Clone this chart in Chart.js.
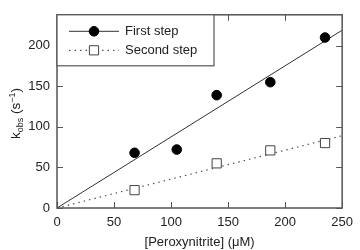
<!DOCTYPE html>
<html>
<head>
<meta charset="utf-8">
<script src="https://cdn.jsdelivr.net/npm/chart.js@4.4.1/dist/chart.umd.min.js"></script>
<style>
  html, body { margin: 0; padding: 0; background: #fff; }
  #wrap { width: 360px; height: 250px; position: relative; }
</style>
</head>
<body>
<div id="wrap"><canvas id="myChart"></canvas></div>
<script>
// data
const firstConc = [68, 105, 140, 187, 235];
const firstStep = [68, 72, 139, 155, 210];
const secondConc = [68, 140, 187, 235];
const secondStep = [22, 55, 71, 80];
// fitted lines through the origin (endpoints)
const fitConc = [0, 250];
const firstFit = [0, 219];
const secondFit = [0, 89];
// axis ticks
const xTicks = [0, 50, 100, 150, 200, 250];
const yTicks = [0, 50, 100, 150, 200];

const font = "'Liberation Sans', Arial, sans-serif";
const toXY = (xs, ys) => xs.map((x, i) => ({ x: x, y: ys[i] }));

// inward ticks, frame, legend and y title
const decorations = {
  id: "decorations",
  afterDatasetsDraw(chart) {
    const c = chart.ctx;
    const a = chart.chartArea;
    const xs = chart.scales.x;
    const ys = chart.scales.y;
    c.save();
    c.strokeStyle = "#555";
    c.lineWidth = 1;
    xTicks.forEach((t) => {
      let px = Math.round(xs.getPixelForValue(t)) + 0.5;
      c.beginPath();
      c.moveTo(px, a.bottom); c.lineTo(px, a.bottom - 6);
      c.moveTo(px, a.top); c.lineTo(px, a.top + 6);
      c.stroke();
    });
    yTicks.forEach((t) => {
      let py = Math.round(ys.getPixelForValue(t)) + 0.5;
      c.beginPath();
      c.moveTo(a.left, py); c.lineTo(a.left + 6, py);
      c.moveTo(a.right, py); c.lineTo(a.right - 6, py);
      c.stroke();
    });
    c.lineWidth = 1.5;
    c.strokeRect(a.left, a.top, a.right - a.left, a.bottom - a.top);

    // legend box
    let lx = a.left, ly = a.top, lw = 157, lh = 51;
    c.fillStyle = "#fff";
    c.fillRect(lx, ly, lw, lh);
    c.lineWidth = 1.2;
    c.strokeStyle = "#555";
    c.strokeRect(lx, ly, lw, lh);
    let rows = [
      { y: ly + 16.5, ds: chart.data.datasets[2], mk: chart.data.datasets[0], label: "First step" },
      { y: ly + 35.5, ds: chart.data.datasets[3], mk: chart.data.datasets[1], label: "Second step" },
    ];
    rows.forEach((r) => {
      c.beginPath();
      c.strokeStyle = r.ds.borderColor;
      c.lineWidth = r.ds.borderWidth;
      c.setLineDash(r.ds.borderDash || []);
      c.moveTo(lx + 12, r.y); c.lineTo(lx + 62, r.y);
      c.stroke();
      c.setLineDash([]);
      c.fillStyle = r.mk.backgroundColor;
      c.strokeStyle = r.mk.borderColor;
      c.lineWidth = r.mk.borderWidth;
      c.beginPath();
      if (r.mk.pointStyle === "rect") {
        let s = r.mk.pointRadius * Math.SQRT1_2;
        c.rect(lx + 37 - s, r.y - s, 2 * s, 2 * s);
      } else {
        c.arc(lx + 37, r.y, r.mk.pointRadius, 0, Math.PI * 2);
      }
      c.fill(); c.stroke();
      c.fillStyle = "#222";
      c.font = "13px " + font;
      c.textBaseline = "middle";
      c.fillText(r.label, lx + 68, r.y + 0.5);
    });

    // y axis title with subscript
    c.save();
    c.translate(16, (a.top + a.bottom) / 2 + 2);
    c.rotate(-Math.PI / 2);
    c.fillStyle = "#222";
    c.textBaseline = "alphabetic";
    let parts = [["k", 13.5, 0], ["obs", 9, 3], [" (s", 13.5, 0], ["\u22121", 9, -5], [")", 13.5, 0]];
    let total = 0;
    parts.forEach((p) => { c.font = p[1] + "px " + font; total += c.measureText(p[0]).width; });
    let cx = -total / 2;
    parts.forEach((p) => {
      c.font = p[1] + "px " + font;
      c.fillText(p[0], cx, 4 + p[2]);
      cx += c.measureText(p[0]).width;
    });
    c.restore();
    c.restore();
  },
};

const ctx = document.getElementById("myChart");

new Chart(ctx, {
  type: "scatter",
  data: {
    datasets: [
      {
        label: "First step",
        data: toXY(firstConc, firstStep),
        pointStyle: "circle",
        pointRadius: 4.8,
        backgroundColor: "#000",
        borderColor: "#000",
        borderWidth: 1,
        showLine: false,
      },
      {
        label: "Second step",
        data: toXY(secondConc, secondStep),
        pointStyle: "rect",
        pointRadius: 6.5,
        backgroundColor: "#fff",
        borderColor: "#444",
        borderWidth: 1,
        showLine: false,
      },
      {
        label: "First fit",
        data: toXY(fitConc, firstFit),
        showLine: true,
        pointRadius: 0,
        borderColor: "#333",
        borderWidth: 1,
      },
      {
        label: "Second fit",
        data: toXY(fitConc, secondFit),
        showLine: true,
        pointRadius: 0,
        borderColor: "#555",
        borderWidth: 1.2,
        borderDash: [1.5, 4],
      },
    ],
  },
  options: {
    responsive: true,
    maintainAspectRatio: false,
    animation: false,
    layout: { padding: { top: 1, right: 13, left: 0, bottom: 0 } },
    plugins: {
      legend: { display: false },
      tooltip: { enabled: false },
    },
    scales: {
      x: {
        type: "linear",
        min: 0,
        max: 250,
        afterBuildTicks: (s) => { s.ticks = xTicks.map((v) => ({ value: v })); },
        afterFit: (s) => { s.height = 42; },
        grid: { drawOnChartArea: false, drawTicks: false },
        border: { display: false },
        ticks: { color: "#222", font: { family: font, size: 13 }, padding: 7 },
        title: {
          display: true,
          text: "[Peroxynitrite] (\u03bcM)",
          color: "#222",
          font: { family: font, size: 13 },
          padding: { top: 3, bottom: 0 },
        },
      },
      y: {
        type: "linear",
        min: 0,
        max: 238,
        afterBuildTicks: (s) => { s.ticks = yTicks.map((v) => ({ value: v })); },
        afterFit: (s) => { s.width = 57; },
        grid: { drawOnChartArea: false, drawTicks: false },
        border: { display: false },
        ticks: { color: "#222", font: { family: font, size: 13 }, padding: 7 },
      },
    },
  },
  plugins: [decorations],
});
</script>
</body>
</html>
